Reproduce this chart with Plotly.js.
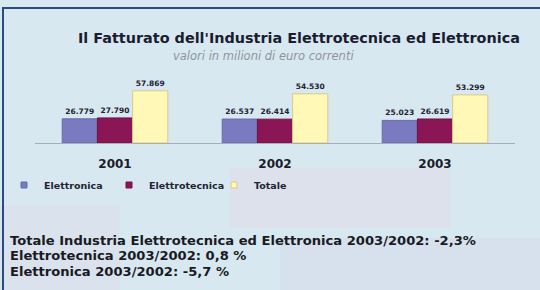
<!DOCTYPE html>
<html><head><meta charset="utf-8">
<script src="https://cdn.plot.ly/plotly-3.0.1.min.js"></script>
<style>html,body{margin:0;padding:0;background:#d9e8f1;}#c{width:540px;height:290px;}</style>
</head><body><div id="c"></div>
<script>
const categories = ['2001', '2002', '2003'];
const elettronica = [26779, 26537, 25023];
const elettrotecnica = [27790, 26414, 26619];
const totale = [57869, 54530, 53299];
const seriesNames = ['Elettronica', 'Elettrotecnica', 'Totale'];
const notes = [
  'Totale Industria Elettrotecnica ed Elettronica 2003/2002: -2,3%',
  'Elettrotecnica 2003/2002: 0,8 %',
  'Elettronica 2003/2002: -5,7 %'
];

const W = 540, H = 290;
const px = x => x / W;
const py = y => (H - y) / H;

const colors = ['#7a7ac0', '#8b1656', '#fff8b6'];
const lines = ['#6a6aa8', '#6e1244', '#d8c98a'];
const vals = [elettronica, elettrotecnica, totale];
const txtFont = {family: 'DejaVu Sans', size: 7.5, color: '#222233', weight: 'bold'};

const traces = vals.map((v, i) => ({
  type: 'bar', x: categories, y: v, name: seriesNames[i], showlegend: false,
  marker: {color: colors[i], line: {color: lines[i], width: 1}},
  texttemplate: '<b>%{y:,}</b>', textposition: 'outside', cliponaxis: false,
  textfont: txtFont
}));
seriesNames.forEach((n, i) => traces.push({
  type: 'scatter', mode: 'markers', x: [null], y: [null], name: n, showlegend: true,
  marker: {symbol: 'square', size: 6, color: colors[i], line: {color: lines[i], width: 1}}
}));

const annotations = [
  {text: "<b>Il Fatturato dell'Industria Elettrotecnica ed Elettronica</b>", xref: 'paper', yref: 'paper',
   x: px(299), y: py(38), xanchor: 'center', yanchor: 'middle', showarrow: false,
   font: {family: 'DejaVu Sans', size: 14.4, color: '#1c1c30'}},
  {text: '<i>valori in milioni di euro correnti</i>', xref: 'paper', yref: 'paper',
   x: px(263), y: py(56), xanchor: 'center', yanchor: 'middle', showarrow: false,
   font: {family: 'DejaVu Sans', size: 11.5, color: '#8f949c'}}
];
notes.forEach((t, i) => annotations.push({
  text: '<b>' + t + '</b>', xref: 'paper', yref: 'paper',
  x: px(8), y: py(240 + i * 15.5), xanchor: 'left', yanchor: 'middle', showarrow: false,
  font: {family: 'DejaVu Sans', size: 13.1, color: '#1a1a22'}
}));

const shapes = [
  {type: 'rect', xref: 'paper', yref: 'paper', x0: px(230), x1: px(450), y0: py(228), y1: py(168),
   fillcolor: 'rgba(240,200,215,0.22)', line: {width: 0}, layer: 'below'},
  {type: 'rect', xref: 'paper', yref: 'paper', x0: px(0), x1: px(120), y0: py(290), y1: py(205),
   fillcolor: 'rgba(225,205,225,0.2)', line: {width: 0}, layer: 'below'},
  {type: 'rect', xref: 'paper', yref: 'paper', x0: px(280), x1: px(540), y0: py(290), y1: py(238),
   fillcolor: 'rgba(215,200,225,0.2)', line: {width: 0}, layer: 'below'},
  {type: 'rect', xref: 'paper', yref: 'paper', x0: px(3), x1: px(545), y0: py(295), y1: py(8),
   fillcolor: 'rgba(0,0,0,0)', line: {color: '#2a4c86', width: 2}, layer: 'above'}
];

const layout = {
  width: W, height: H,
  margin: {l: 0, r: 0, t: 0, b: 0, pad: 0},
  paper_bgcolor: '#d8e8f1', plot_bgcolor: 'rgba(0,0,0,0)',
  separators: ',.',
  barmode: 'group', bargap: 0.34, bargroupgap: 0,
  showlegend: true,
  legend: {orientation: 'h', x: px(4), y: py(185), xanchor: 'left', yanchor: 'middle',
    bgcolor: 'rgba(0,0,0,0)', font: {family: 'DejaVu Sans', size: 9.5, color: '#222233', weight: 'bold'},
    entrywidth: 60, entrywidthmode: 'pixels', traceorder: 'normal'},
  xaxis: {type: 'category', domain: [35 / W, 515 / W], showline: true, linecolor: '#a8aeb6', linewidth: 1, ticks: '',
    ticklabelstandoff: 10,
    tickfont: {family: 'DejaVu Sans', size: 12, color: '#1c1c28', weight: 'bold'}, showgrid: false, zeroline: false},
  yaxis: {domain: [py(143), py(60)], range: [0, 92000], visible: false, showgrid: false, zeroline: false},
  annotations: annotations,
  shapes: shapes
};

Plotly.newPlot('c', traces, layout, {displayModeBar: false, staticPlot: true});
</script>
</body></html>
